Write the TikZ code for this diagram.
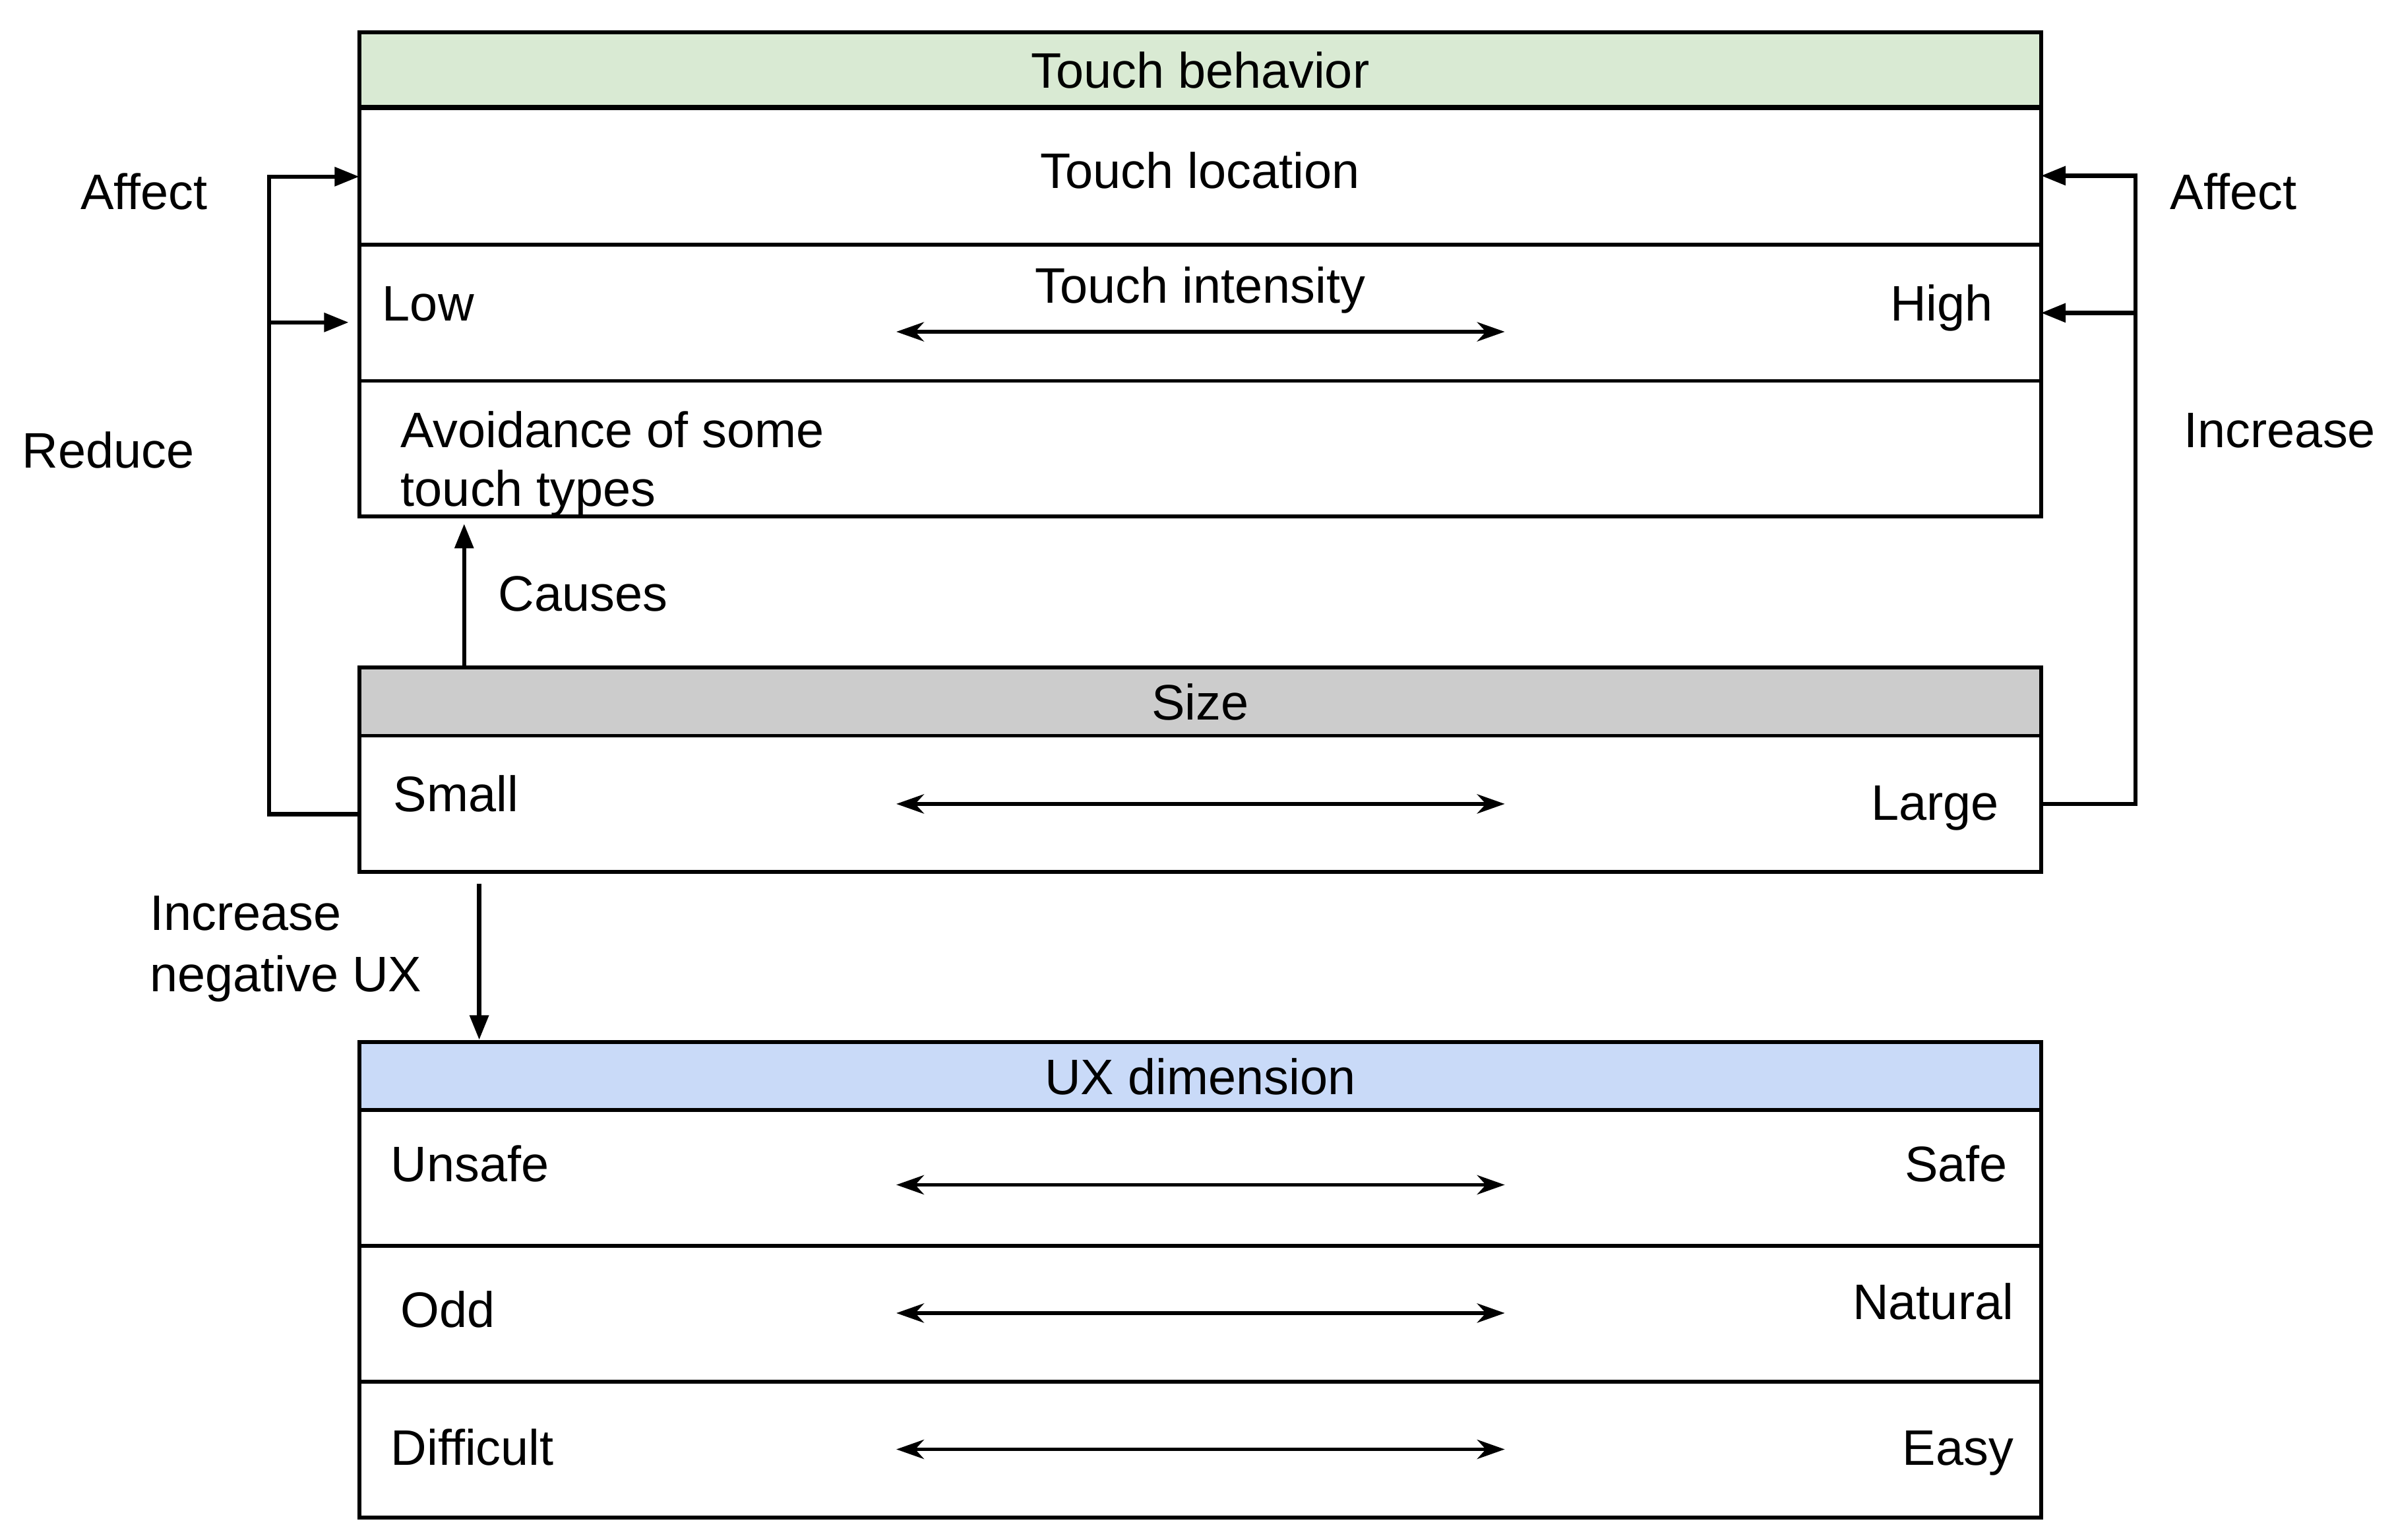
\documentclass[tikz,border=0pt]{standalone}
\usepackage{fontspec}
\setmainfont{Liberation Sans}
\usetikzlibrary{arrows.meta}
\definecolor{hgreen}{HTML}{D9EAD3}
\definecolor{hgray}{HTML}{CCCCCC}
\definecolor{hblue}{HTML}{C9DAF8}
\begin{document}
\begin{tikzpicture}[x=1pt,y=-1pt,line width=2.5pt,
  cell/.style={draw,rectangle,line width=2.5pt,inner sep=0,outer sep=0,minimum width=1095pt},
  lbl/.style={inner sep=0,outer sep=0,font=\fontsize{32.5}{38.3}\selectfont},
  flow/.style={-{Triangle[length=16pt,width=12pt]},line width=2.8pt},
  dbl/.style={{Stealth[length=18pt,width=12.6pt,inset=5.7pt]}-{Stealth[length=18pt,width=12.6pt,inset=5.7pt]},line width=2.3pt}]
\fill[white] (0,0) rectangle (1560,1002.6);
\useasboundingbox (0,0) rectangle (1560,1002.6);

% Touch behavior box
\node[cell,fill=hgreen,minimum height=48.9pt] (tbh) at (781.4,45.65) {};
\node[cell,minimum height=89.2pt] (loc) at (781.4,114.7) {};
\node[cell,minimum height=88.7pt] (int) at (781.4,203.65) {};
\node[cell,minimum height=88.3pt] (avo) at (781.4,292.15) {};
\draw[line width=3.4pt] (tbh.south west) -- (tbh.south east);

% Size box
\node[cell,fill=hgray,minimum height=44.4pt] (szh) at (781.4,456.8) {};
\node[cell,minimum height=88.6pt] (sz) at (781.4,523.3) {};

% UX box
\node[cell,fill=hblue,minimum height=44.1pt] (uxh) at (781.4,700.45) {};
\node[cell,minimum height=88.5pt] (ux1) at (781.4,766.75) {};
\node[cell,minimum height=88.5pt] (ux2) at (781.4,855.25) {};
\node[cell,minimum height=88.5pt] (ux3) at (781.4,943.75) {};

% texts in boxes
\node[lbl,anchor=base] (ttb) at (781.4,57.5) {Touch behavior};
\node[lbl,anchor=base] (tloc) at (781.4,122.8) {Touch location};
\node[lbl,anchor=base] (tint) at (781.4,197.5) {Touch intensity};
\node[lbl,anchor=base west] (tlow) at (249,209) {Low};
\node[lbl,anchor=base east] (thigh) at (1297.5,209) {High};
\node[lbl,anchor=base west,align=left] (tavo) at (261,329.7) {Avoidance of some\\touch types};
\node[lbl,anchor=base] (tsize) at (781.4,468.7) {Size};
\node[lbl,anchor=base west] (tsmall) at (256.3,528.4) {Small};
\node[lbl,anchor=base east] (tlarge) at (1301.5,533.9) {Large};
\node[lbl,anchor=base] (tux) at (781.4,712.5) {UX dimension};
\node[lbl,anchor=base west] (tunsafe) at (254.6,769.3) {Unsafe};
\node[lbl,anchor=base east] (tsafe) at (1307,769.3) {Safe};
\node[lbl,anchor=base west] (todd) at (260.8,864.3) {Odd};
\node[lbl,anchor=base east] (tnat) at (1311,859) {Natural};
\node[lbl,anchor=base west] (tdiff) at (254.6,953.9) {Difficult};
\node[lbl,anchor=base east] (teasy) at (1311,954) {Easy};

% outside labels
\node[lbl,anchor=base west] (laffl) at (52.5,136.3) {Affect};
\node[lbl,anchor=base west] (lred) at (14.5,304.5) {Reduce};
\node[lbl,anchor=base west] (laffr) at (1413,136.3) {Affect};
\node[lbl,anchor=base west] (linc) at (1422,291.4) {Increase};
\node[lbl,anchor=base west] (lcause) at (324.6,397.8) {Causes};
\node[lbl,anchor=base west,align=left,font=\fontsize{32.5}{39.9}\selectfont] (lneg) at (97.5,645.4) {Increase\\negative UX};

% double arrows
\coordinate (a1l) at (583.6,216); \coordinate (a1r) at (979.7,216);
\coordinate (a2l) at (583.6,523.4); \coordinate (a2r) at (979.7,523.4);
\coordinate (a3l) at (583.6,771.4); \coordinate (a3r) at (979.7,771.4);
\coordinate (a4l) at (583.6,854.9); \coordinate (a4r) at (979.7,854.9);
\coordinate (a5l) at (583.6,943.6); \coordinate (a5r) at (979.7,943.6);
\draw[dbl] (a1l) -- (a1r);
\draw[dbl] (a2l) -- (a2r);
\draw[dbl] (a3l) -- (a3r);
\draw[dbl] (a4l) -- (a4r);
\draw[dbl] (a5l) -- (a5r);

% left bracket (Reduce / Affect)
\coordinate (Lb) at (175.1,530);
\coordinate (Lt) at (175.1,115);
\coordinate (Lm) at (175.1,209.9);
\coordinate (Le) at (227,209.9);
\draw[flow] (Lb -| sz.west) -- (Lb) -- (Lt) -- (Lt -| loc.west);
\draw[flow] (Lm) -- (Le);

% right bracket (Increase / Affect)
\coordinate (Rb) at (1390.4,523.5);
\coordinate (Rt) at (1390.4,114.4);
\coordinate (Rm) at (1390.4,203.7);
\draw[flow] (Rb -| sz.east) -- (Rb) -- (Rt) -- (Rt -| loc.east);
\draw[flow] (Rm) -- (Rm -| int.east);

% Causes
\coordinate (Cs) at (302.2,434.6);
\coordinate (Ce) at (302.2,341);
\draw[flow] (Cs) -- (Ce);

% Increase negative UX
\coordinate (Ds) at (312,575.3);
\coordinate (De) at (312,677);
\draw[flow] (Ds) -- (De);
\end{tikzpicture}
\end{document}
